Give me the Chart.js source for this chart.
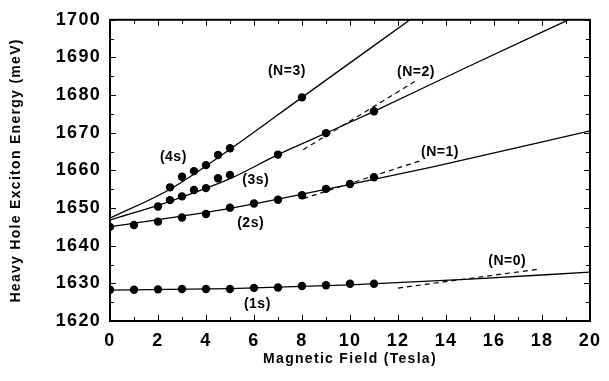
<!DOCTYPE html>
<html><head><meta charset="utf-8">
<script src="https://cdn.jsdelivr.net/npm/chart.js@4.4.0/dist/chart.umd.min.js"></script>
<style>html,body{margin:0;padding:0;background:#fff}#wrap{width:609px;height:381px}</style>
</head><body><div id="wrap"><canvas id="c" width="609" height="381"></canvas></div>
<script>
// Measured points (Magnetic field T, energy meV)
const fieldS1 = [0,1,2,3,4,5,6,7,8,9,10,11];
const energyS1 = [1628.3,1628.3,1628.4,1628.5,1628.5,1628.5,1628.8,1628.9,1629.3,1629.5,1629.9,1629.9];
const fieldS2 = [0,1,2,3,4,5,6,7,8,9,10,11];
const energyS2 = [1645.0,1645.5,1646.4,1647.5,1648.4,1650.1,1651.2,1652.2,1653.4,1655.1,1656.4,1658.2];
const fieldS3 = [2,2.5,3,3.5,4,4.5,5,7,9,11];
const energyS3 = [1650.4,1652.1,1653.1,1654.8,1655.3,1657.9,1658.8,1664.2,1669.9,1675.7];
const fieldS4 = [2.5,3,3.5,4,4.5,5,8];
const energyS4 = [1655.5,1658.3,1659.8,1661.4,1664.1,1665.9,1679.4];

// Fitted solid curves
const fitFieldN0 = [0,5,10,15,20];
const fitEnergyN0 = [1628.2,1628.6,1629.6,1631.1,1633.0];
const fitFieldN1 = [0,5,10,13.5,20];
const fitEnergyN1 = [1645.0,1649.9,1656.3,1661.0,1670.5];
const fitFieldN2 = [0,2.5,5,7,9,11,15,19.1];
const fitEnergyN2 = [1646.8,1651.8,1657.8,1664.2,1669.9,1675.7,1687.8,1700];
const fitFieldN3 = [0,2.5,5,8,12.5];
const fitEnergyN3 = [1647.3,1655.0,1665.6,1679.4,1700];

// Dashed asymptotes
const dashFieldN0 = [12.0,17.9];
const dashEnergyN0 = [1628.75,1633.8];
const dashFieldN1 = [8.05,13.0];
const dashEnergyN1 = [1652.5,1662.7];
const dashFieldN2 = [8.05,12.7];
const dashEnergyN2 = [1665.5,1683.6];

// Tick labels
const xTickValues = [0,2,4,6,8,10,12,14,16,18,20];
const yTickValues = [1620,1630,1640,1650,1660,1670,1680,1690,1700];

// Curve labels (text, field, energy)
const labelTexts = ['(N=3)','(N=2)','(N=1)','(N=0)','(4s)','(3s)','(2s)','(1s)'];
const labelFields = [7.37,12.75,13.75,16.55,2.64,6.07,5.86,6.14];
const labelEnergies = [1686.4,1686.2,1664.9,1636.0,1663.6,1657.3,1646.1,1624.4];

const pts = (xs, ys) => xs.map((x,i)=>({x, y: ys[i]}));
const pointDs = (xs, ys) => ({data: pts(xs,ys), showLine:false, pointRadius:4.2, pointBackgroundColor:'#000', pointBorderColor:'#000', pointBorderWidth:0});
const lineDs = (xs, ys) => ({data: pts(xs,ys), showLine:true, pointRadius:0, borderColor:'#000', borderWidth:1.3, cubicInterpolationMode:'monotone', fill:false});
const dashDs = (xs, ys) => ({data: pts(xs,ys), showLine:true, pointRadius:0, borderColor:'#000', borderWidth:1.2, borderDash:[5,4], fill:false});

const FONT = 'Liberation Sans, Arial, sans-serif';

const framePlugin = {
  id:'frame',
  beforeDraw(chart){ chart.ctx.letterSpacing = '1.3px'; },
  afterDatasetsDraw(chart){
    const {ctx, chartArea:a, scales:{x,y}} = chart;
    ctx.save();
    ctx.letterSpacing = '0.5px';
    ctx.fillStyle = '#000';
    ctx.font = 'bold 14px ' + FONT;
    ctx.textAlign = 'center'; ctx.textBaseline = 'middle';
    labelTexts.forEach((t,i)=>{
      ctx.fillText(t, x.getPixelForValue(labelFields[i]), y.getPixelForValue(labelEnergies[i]));
    });
    ctx.strokeStyle = '#000';
    ctx.lineWidth = 1;
    ctx.beginPath();
    for (let v = 0; v <= 20; v += 1) {
      const px = Math.round(x.getPixelForValue(v)) + 0.5;
      const len = v % 2 === 0 ? 6 : 4;
      ctx.moveTo(px, a.bottom); ctx.lineTo(px, a.bottom - len);
      ctx.moveTo(px, a.top); ctx.lineTo(px, a.top + len);
    }
    for (let v = 1620; v <= 1700; v += 5) {
      const py = Math.round(y.getPixelForValue(v)) + 0.5;
      const len = v % 10 === 0 ? 6 : 4;
      ctx.moveTo(a.left, py); ctx.lineTo(a.left + len, py);
      ctx.moveTo(a.right, py); ctx.lineTo(a.right - len, py);
    }
    ctx.stroke();
    ctx.lineWidth = 2;
    ctx.strokeRect(a.left, a.top, a.right - a.left, a.bottom - a.top);
    ctx.restore();
  }
};

new Chart(document.getElementById('c'), {
  type:'scatter',
  data:{datasets:[
    lineDs(fitFieldN0, fitEnergyN0),
    lineDs(fitFieldN1, fitEnergyN1),
    lineDs(fitFieldN2, fitEnergyN2),
    lineDs(fitFieldN3, fitEnergyN3),
    dashDs(dashFieldN0, dashEnergyN0),
    dashDs(dashFieldN1, dashEnergyN1),
    dashDs(dashFieldN2, dashEnergyN2),
    pointDs(fieldS1, energyS1),
    pointDs(fieldS2, energyS2),
    pointDs(fieldS3, energyS3),
    pointDs(fieldS4, energyS4)
  ]},
  options:{
    responsive:false, animation:false, devicePixelRatio:1,
    layout:{padding:{top:13,right:12,left:0,bottom:0}},
    plugins:{legend:{display:false}, tooltip:{enabled:false}},
    scales:{
      x:{type:'linear', min:0, max:20,
        afterBuildTicks(s){ s.ticks = xTickValues.map(v=>({value:v})); },
        afterFit(s){ s.height = 60; },
        grid:{display:false, drawTicks:false},
        border:{display:false},
        ticks:{color:'#000', padding:9, font:{family:FONT, size:18, weight:'bold'}, maxRotation:0, callback:v=>String(v)},
        title:{display:true, text:'Magnetic Field (Tesla)', color:'#000', padding:{bottom:13}, font:{family:FONT, size:14, weight:'bold'}}
      },
      y:{type:'linear', min:1620, max:1700,
        afterBuildTicks(s){ s.ticks = yTickValues.map(v=>({value:v})); },
        afterFit(s){ s.width = 110; },
        grid:{display:false, drawTicks:false},
        border:{display:false},
        ticks:{color:'#000', padding:9, font:{family:FONT, size:18, weight:'bold'}, callback:v=>String(v)},
        title:{display:true, text:'Heavy Hole Exciton Energy (meV)', color:'#000', padding:{top:8}, font:{family:FONT, size:14, weight:'bold'}}
      }
    }
  },
  plugins:[framePlugin]
});
</script></body></html>
